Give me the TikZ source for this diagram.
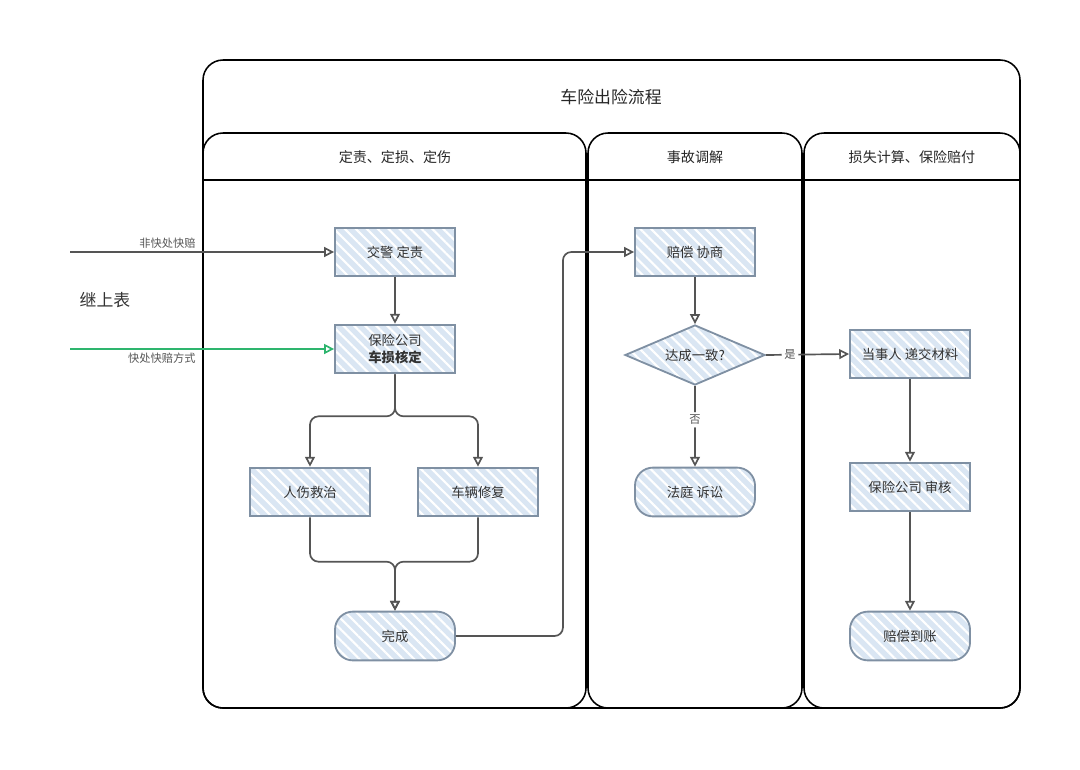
\documentclass[tikz,border=0pt]{standalone}
\usepackage{fontspec}
\newfontfamily\cjk{Noto Sans CJK SC}
\usetikzlibrary{arrows.meta,positioning,patterns.meta,shapes.geometric,calc}
\definecolor{boxFill}{HTML}{DAE6F3}
\definecolor{boxLine}{HTML}{7F90A3}
\definecolor{flowGray}{HTML}{555555}
\definecolor{fastGreen}{HTML}{2EB56E}
\tikzset{
  box/.style={rectangle, draw=boxLine, line width=1.3pt,
              preaction={fill=boxFill},
              preaction={pattern={Lines[angle=-45,distance=5.5pt,line width=1.5pt]}, pattern color=white},
              font=\cjk\fontsize{9.5}{12}\selectfont, text=black!80,
              minimum width=3cm, minimum height=1.22cm, align=center},
  endBox/.style={box, rounded corners=0.45cm},
  decision/.style={box, diamond, aspect=2.33, inner sep=0pt, minimum width=3.5cm, minimum height=1.5cm},
  flowArrow/.style={-{Triangle[open,length=7pt,width=7pt]}, draw=flowGray, line width=1.2pt, rounded corners=6pt},
  lane/.style={draw=black, line width=1.1pt, rounded corners=0.5cm},
  laneTitle/.style={font=\cjk\normalsize, text=black!85},
  edgeText/.style={font=\cjk\footnotesize, text=flowGray, inner sep=2pt}
}

\begin{document}
\begin{tikzpicture}[x=0.025cm, y=-0.025cm]
\useasboundingbox (0,0) rectangle (1080,770);

% Pool and lanes
\draw[lane] (203,60) rectangle (1020,708);
\draw[lane] (203,133) rectangle (586,708);
\draw[lane] (588,133) rectangle (802,708);
\draw[lane] (804,133) rectangle (1020,708);
\draw[line width=1.1pt] (203,180) -- (586,180);
\draw[line width=1.1pt] (588,180) -- (802,180);
\draw[line width=1.1pt] (804,180) -- (1020,180);

\node[laneTitle, font=\cjk\large] (Pool) at (611,97) {车险出险流程};
\node[laneTitle] (LaneA) at (395,157) {定责、定损、定伤};
\node[laneTitle] (LaneB) at (695,157) {事故调解};
\node[laneTitle] (LaneC) at (912,157) {损失计算、保险赔付};

% Left lane
\node[box] (Police) at (395,252) {交警 定责};
\node[box] (Check) at (395,349) {保险公司\\{\bfseries 车损核定}};
\node[box] (Hurt) at (310,492) {人伤救治};
\node[box] (Repair) at (478,492) {车辆修复};
\node[endBox] (Done) at (395,636) {完成};

% Middle lane
\node[box] (Talk) at (695,252) {赔偿 协商};
\node[decision] (Agree) at (695,355) {达成一致?};
\node[endBox] (Court) at (695,492) {法庭 诉讼};

% Right lane
\node[box] (Submit) at (910,354) {当事人 递交材料};
\node[box] (Audit) at (910,487) {保险公司 审核};
\node[endBox] (Paid) at (910,636) {赔偿到账};

% Incoming from the previous table
\coordinate (SlowIn) at (70,252);
\coordinate (FastIn) at (70,349);
\node[font=\cjk\large, text=black!80] (Prev) at (105,300) {继上表};

\draw[flowArrow] (SlowIn) -- node[pos=0.49, above left, edgeText] {非快处快赔} (Police.west);
\draw[flowArrow, draw=fastGreen] (FastIn) -- node[pos=0.49, below left, edgeText] {快处快赔方式} (Check.west);

% Flow
\draw[flowArrow] (Police.south) -- (Check.north);
\draw[flowArrow] (Check.south) -- ++(0,42) -| (Hurt.north);
\draw[flowArrow] (Check.south) -- ++(0,42) -| (Repair.north);
\draw[flowArrow] (Hurt.south) |- ($(Done.north)+(0,-49)$) -- (Done.north);
\draw[flowArrow] (Repair.south) |- ($(Done.north)+(0,-49)$) -- (Done.north);
\draw[flowArrow] (Done.east) -- ++(107,0) |- (Talk.west);
\draw[flowArrow] (Talk.south) -- (Agree.north);
\draw[flowArrow] (Agree.south) -- node[pos=0.42, fill=white, edgeText] {否} (Court.north);
\draw[flowArrow] (Agree.east) -- node[pos=0.29, fill=white, edgeText] {是} (Submit.west);
\draw[flowArrow] (Submit.south) -- (Audit.north);
\draw[flowArrow] (Audit.south) -- (Paid.north);

\end{tikzpicture}
\end{document}
